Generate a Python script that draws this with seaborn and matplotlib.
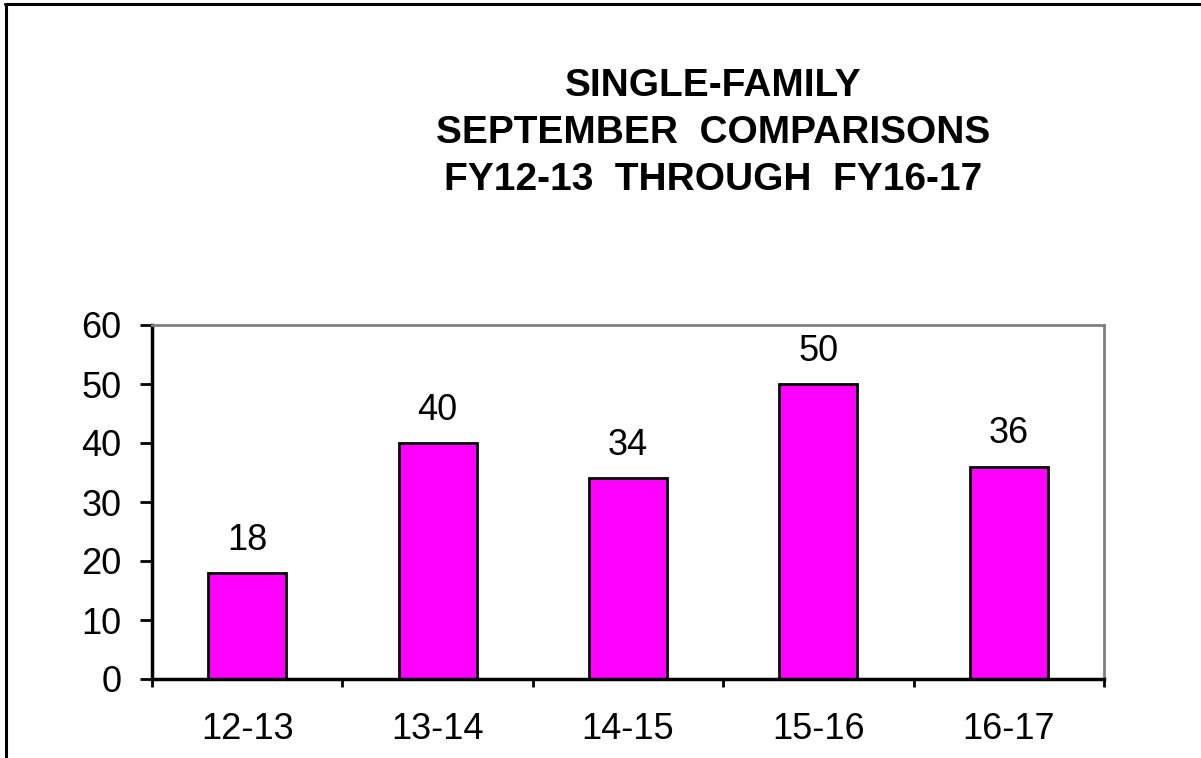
import matplotlib
matplotlib.use("Agg")
import matplotlib.pyplot as plt
import seaborn as sns
import pandas as pd
from matplotlib.lines import Line2D

categories = ["12-13", "13-14", "14-15", "15-16", "16-17"]
values = [18, 40, 34, 50, 36]
y_ticks = [0, 10, 20, 30, 40, 50, 60]
title_lines = ["SINGLE-FAMILY", "SEPTEMBER  COMPARISONS", "FY12-13  THROUGH  FY16-17"]

sns.set_style("white")
plt.rcParams["font.family"] = ["Liberation Sans", "DejaVu Sans"]
plt.rcParams["text.color"] = "black"
plt.rcParams["xtick.color"] = "black"
plt.rcParams["ytick.color"] = "black"
plt.rcParams["axes.labelcolor"] = "black"

df = pd.DataFrame({"year": categories, "count": values})

fig = plt.figure(figsize=(12.01, 7.58), dpi=100)
ax = fig.add_axes([152/1201, 1 - 679/758, (1104 - 152)/1201, (679 - 325)/758])

sns.barplot(data=df, x="year", y="count", ax=ax, color="#FF00FF", saturation=1,
            width=0.41, edgecolor="black", linewidth=2)

ax.set_xlim(-0.5, len(categories) - 0.5)
ax.set_ylim(0, 60)
ax.set_yticks(y_ticks)
ax.set_xlabel("")
ax.set_ylabel("")

for i, v in enumerate(values):
    ax.annotate(str(v), (i, v), xytext=(0, 11), textcoords="offset points",
                ha="center", va="bottom", fontsize=26, color="black")

# spines
for s in ["left", "bottom"]:
    ax.spines[s].set_color("black")
    ax.spines[s].set_linewidth(2.5)
for s in ["top", "right"]:
    ax.spines[s].set_color("#808080")
    ax.spines[s].set_linewidth(2.0)
    ax.spines[s].set_visible(True)

ax.tick_params(axis="y", which="major", direction="out", length=9, width=2,
               color="black", labelsize=26, pad=13, left=True)
ax.tick_params(axis="x", which="major", length=0, labelsize=26, pad=24)
ax.set_xticks([i - 0.5 for i in range(len(categories) + 1)], minor=True)
ax.tick_params(axis="x", which="minor", direction="out", length=6, width=2,
               color="black", bottom=True)

fig.text(713/1201, 1 - 133/758, "\n".join(title_lines), ha="center", va="center",
         fontsize=28, fontweight="bold", linespacing=1.38, color="black")

# figure border (top and left)
fig.add_artist(Line2D([5.5/1201, 5.5/1201], [0, 1 - 3.5/758], transform=fig.transFigure,
                      color="black", linewidth=2.2))
fig.add_artist(Line2D([4.5/1201, 1], [1 - 3.5/758, 1 - 3.5/758], transform=fig.transFigure,
                      color="black", linewidth=2.2))

fig.savefig("out.png", dpi=100)
